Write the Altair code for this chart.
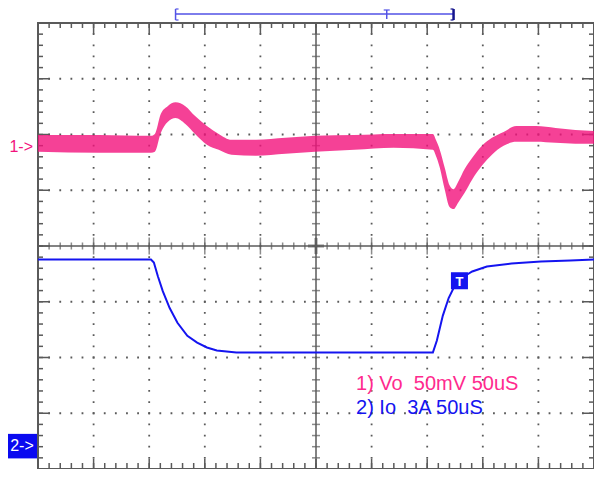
import altair as alt
import pandas as pd
import numpy as np

# ---------------- data ----------------
# Channel 1: Vo envelope (upper / lower edge of the noisy trace), mV relative to its "1->" ground marker
t_vo = [0, 54.8, 101.6, 105.1, 110.4, 116.6, 123.7, 132.5, 141.3, 151.9, 162.5, 174.0, 196.1,
        222.6, 249.1, 284.5, 319.8, 355.1, 357.8, 361.3, 365.7, 370.1, 373.7, 378.1, 383.4,
        390.5, 399.3, 408.2, 418.7, 430.2, 447.9, 465.5, 483.2, 500]
vo_hi = [10.6, 10.6, 9.8, 11.5, 29.3, 36.4, 39.9, 36.4, 27.5, 18.6, 11.5, 6.2, 6.2,
         8.0, 9.8, 10.6, 11.5, 11.5, 6.2, -2.7, -18.6, -34.6, -38.1, -31.0, -20.4,
         -9.8, 0.9, 8.0, 13.3, 18.6, 18.6, 16.9, 15.1, 14.2]
vo_lo = [-4.4, -5.3, -5.3, -4.4, 12.4, 22.2, 25.7, 20.4, 11.5, 1.8, -2.7, -7.1, -8.0,
         -6.2, -4.4, -2.7, -0.9, -2.7, -8.0, -18.6, -38.1, -54.1, -55.9, -49.7, -41.7,
         -29.3, -16.9, -7.1, 0.9, 4.4, 4.4, 3.5, 2.7, 2.7]

# Channel 2: Io (A) relative to its "2->" ground marker
t_io = [0, 101.6, 104.2, 107.8, 112.2, 118.4, 125.4, 134.3, 143.1, 151.9, 160.8, 178.4, 231.4,
        300, 355.1, 358.7, 364.0, 369.3, 374.6, 381.6, 390.5, 403.7, 425.8, 452.3, 478.8, 500]
io = [10.04, 10.04, 9.88, 9.14, 8.34, 7.43, 6.64, 5.94, 5.57, 5.31, 5.15, 5.04, 5.04,
      5.04, 5.04, 5.68, 7.01, 7.97, 8.61, 9.08, 9.40, 9.67, 9.83, 9.94, 9.99, 10.04]

# scope settings
TIME_DIV = 50           # us / div
N_XDIV, N_YDIV = 10, 8
CH1_POS, CH1_MV_DIV = 1.78, 50      # ground marker position (div), mV/div
CH2_POS, CH2_A_DIV = -3.59, 3       # ground marker position (div), A/div
TRIG_T, TRIG_A = 379, 8.9           # trigger point
BAR_START, BAR_TRIG, BAR_END = 123.7, 313.6, 373.7   # memory bar (us)
legend_lines = ["1) Vo\u00a0 50mV 50uS", "2) Io\u00a0 3A 50uS"]
LEGEND_T = 286                       # legend anchor (us)
LEGEND_Y = [-2.47, -2.90]            # legend rows (div)

# ---------------- styling ----------------
W, H = 556, 446
PINK = "#F2127C"
PINK_TXT = "#FF2A8E"
BLUE = "#1414F0"
BAR_BLUE = "#5252E6"
BAR_END_C = "#14148C"
GRID = "#5a5a5a"
FONT = "Liberation Sans"

XMAX = TIME_DIV * N_XDIV
xs = alt.Scale(domain=[0, XMAX], nice=False, zero=False)
ys = alt.Scale(domain=[-N_YDIV / 2, N_YDIV / 2], nice=False, zero=False)


def X(f):
    return alt.X(f, type="quantitative", scale=xs, axis=None)


def Y(f):
    return alt.Y(f, type="quantitative", scale=ys, axis=None)


def XD(v):
    return alt.XDatum(v, type="quantitative", scale=xs, axis=None)


def YD(v):
    return alt.YDatum(v, type="quantitative", scale=ys, axis=None)


one = pd.DataFrame({"a": [0]})

# grid positions
minor_x = pd.DataFrame({"v": np.linspace(0, XMAX, N_XDIV * 5 + 1)})
major_x = pd.DataFrame({"v": np.linspace(0, XMAX, N_XDIV + 1)})
minor_y = pd.DataFrame({"v": np.linspace(-N_YDIV / 2, N_YDIV / 2, N_YDIV * 5 + 1)})
major_y = pd.DataFrame({"v": np.linspace(-N_YDIV / 2, N_YDIV / 2, N_YDIV + 1)})
inner_x = major_x[(major_x.v > 0) & (major_x.v < XMAX) & (major_x.v != XMAX / 2)]
inner_y = major_y[(major_y.v.abs() < N_YDIV / 2) & (major_y.v != 0)]

gx = H / (N_YDIV * 5)
gy = W / (N_XDIV * 5)
dot = 1.8

layers = []
# dotted grid
layers.append(alt.Chart(inner_x).mark_rule(color=GRID, strokeWidth=dot, strokeDash=[dot, gx - dot],
                                           strokeDashOffset=dot / 2).encode(x=X("v")))
layers.append(alt.Chart(inner_y).mark_rule(color=GRID, strokeWidth=dot, strokeDash=[dot, gy - dot],
                                           strokeDashOffset=dot / 2).encode(y=Y("v")))
# centre axes
layers.append(alt.Chart(one).mark_rule(color=GRID, strokeWidth=1.5).encode(x=XD(XMAX / 2)))
layers.append(alt.Chart(one).mark_rule(color=GRID, strokeWidth=1.5).encode(y=YD(0)))
layers.append(alt.Chart(minor_x).mark_tick(color=GRID, orient="vertical", size=7, thickness=1.5)
              .encode(x=X("v"), y=YD(0)))
layers.append(alt.Chart(major_x).mark_tick(color=GRID, orient="vertical", size=17, thickness=1.5)
              .encode(x=X("v"), y=YD(0)))
layers.append(alt.Chart(minor_y).mark_tick(color=GRID, orient="horizontal", size=8, thickness=1.5)
              .encode(y=Y("v"), x=XD(XMAX / 2)))
layers.append(alt.Chart(one).mark_tick(color=GRID, orient="horizontal", size=16, thickness=3)
              .encode(y=YD(0), x=XD(XMAX / 2)))
layers.append(alt.Chart(one).mark_tick(color=GRID, orient="vertical", size=16, thickness=3)
              .encode(y=YD(0), x=XD(XMAX / 2)))
# border ticks
layers.append(alt.Chart(minor_x).mark_rule(color=GRID, strokeWidth=1.5)
              .encode(x=X("v"), y=alt.value(0), y2=alt.value(5)))
layers.append(alt.Chart(major_x).mark_rule(color=GRID, strokeWidth=1.5)
              .encode(x=X("v"), y=alt.value(0), y2=alt.value(11)))
layers.append(alt.Chart(minor_x).mark_rule(color=GRID, strokeWidth=1.5)
              .encode(x=X("v"), y=alt.value(H - 6), y2=alt.value(H)))
layers.append(alt.Chart(major_x).mark_rule(color=GRID, strokeWidth=1.5)
              .encode(x=X("v"), y=alt.value(H - 10), y2=alt.value(H)))
layers.append(alt.Chart(minor_y).mark_rule(color=GRID, strokeWidth=1.5)
              .encode(y=Y("v"), x=alt.value(0), x2=alt.value(5)))
layers.append(alt.Chart(major_y).mark_rule(color=GRID, strokeWidth=1.5)
              .encode(y=Y("v"), x=alt.value(0), x2=alt.value(12)))
layers.append(alt.Chart(minor_y).mark_rule(color=GRID, strokeWidth=1.5)
              .encode(y=Y("v"), x=alt.value(W - 5), x2=alt.value(W)))
layers.append(alt.Chart(major_y).mark_rule(color=GRID, strokeWidth=1.5)
              .encode(y=Y("v"), x=alt.value(W - 12), x2=alt.value(W)))

# traces
vo_df = pd.DataFrame({"t": t_vo, "hi": vo_hi, "lo": vo_lo})
vo_df["hi_d"] = CH1_POS + vo_df["hi"] / CH1_MV_DIV
vo_df["lo_d"] = CH1_POS + vo_df["lo"] / CH1_MV_DIV
io_df = pd.DataFrame({"t": t_io, "io": io})
io_df["d"] = CH2_POS + io_df["io"] / CH2_A_DIV

layers.append(alt.Chart(vo_df).mark_area(color=PINK, opacity=0.8, interpolate="monotone")
              .encode(x=X("t"), y=Y("hi_d"), y2="lo_d"))
layers.append(alt.Chart(io_df).mark_line(color=BLUE, strokeWidth=2)
              .encode(x=X("t"), y=Y("d")))

# trigger marker on trace
trig_d = CH2_POS + TRIG_A / CH2_A_DIV
layers.append(alt.Chart(one).mark_square(color=BLUE, size=290, opacity=1)
              .encode(x=XD(TRIG_T), y=YD(trig_d)))
layers.append(alt.Chart(one).mark_text(text="T", color="white", fontSize=13, fontWeight="bold",
                                       font=FONT, baseline="middle", dy=1)
              .encode(x=XD(TRIG_T), y=YD(trig_d)))

# memory bar above the screen (drawn with rules)
BAR_Y, BAR_TOP, BAR_BOT = -9, -14, -3
layers.append(alt.Chart(one).mark_rule(color=BAR_BLUE, strokeWidth=1.5)
              .encode(x=XD(BAR_START), x2=alt.X2Datum(BAR_END), y=alt.value(BAR_Y)))
# left bracket "["
layers.append(alt.Chart(one).mark_rule(color=BAR_BLUE, strokeWidth=1.5)
              .encode(x=XD(BAR_START), y=alt.value(BAR_TOP), y2=alt.value(BAR_BOT)))
for yy in (BAR_TOP, BAR_BOT):
    layers.append(alt.Chart(one).mark_rule(color=BAR_BLUE, strokeWidth=1.2, x2Offset=3)
                  .encode(x=XD(BAR_START), x2=alt.X2Datum(BAR_START), y=alt.value(yy)))
# right bracket "]"
layers.append(alt.Chart(one).mark_rule(color=BAR_END_C, strokeWidth=2.5)
              .encode(x=XD(BAR_END), y=alt.value(BAR_TOP), y2=alt.value(BAR_BOT)))
for yy in (BAR_TOP, BAR_BOT):
    layers.append(alt.Chart(one).mark_rule(color=BAR_END_C, strokeWidth=1.2, xOffset=-3)
                  .encode(x=XD(BAR_END), x2=alt.X2Datum(BAR_END), y=alt.value(yy)))
# trigger "T" on the bar
layers.append(alt.Chart(one).mark_rule(color=BAR_BLUE, strokeWidth=1.5)
              .encode(x=XD(BAR_TRIG), y=alt.value(BAR_TOP + 1), y2=alt.value(BAR_BOT - 1)))
layers.append(alt.Chart(one).mark_rule(color=BAR_BLUE, strokeWidth=1.2, xOffset=-3, x2Offset=3)
              .encode(x=XD(BAR_TRIG), x2=alt.X2Datum(BAR_TRIG), y=alt.value(BAR_TOP + 1)))

# channel ground markers
layers.append(alt.Chart(one).mark_text(text="1->", color=PINK, fontSize=16, font=FONT,
                                       align="right", baseline="middle")
              .encode(x=alt.value(-5), y=YD(CH1_POS)))
layers.append(alt.Chart(one).mark_rect(color="#0A0AF0")
              .encode(x=alt.value(-31), x2=alt.value(-1),
                      y=YD(CH2_POS + 0.22), y2=alt.Y2Datum(CH2_POS - 0.22)))
layers.append(alt.Chart(one).mark_text(text="2->", color="white", fontSize=16, font=FONT,
                                       align="center", baseline="middle")
              .encode(x=alt.value(-16), y=YD(CH2_POS)))

# channel legend text
layers.append(alt.Chart(one).mark_text(text=legend_lines[0], color=PINK_TXT, fontSize=20, font=FONT,
                                       align="left", baseline="middle")
              .encode(x=XD(LEGEND_T), y=YD(LEGEND_Y[0])))
layers.append(alt.Chart(one).mark_text(text=legend_lines[1], color=BLUE, fontSize=20, font=FONT,
                                       align="left", baseline="middle")
              .encode(x=XD(LEGEND_T), y=YD(LEGEND_Y[1])))

chart = alt.layer(*layers).properties(
    width=W, height=H,
    autosize=alt.AutoSizeParams(type="none"),
    padding={"left": 30, "top": 15, "right": 0, "bottom": 0},
    background="white",
).configure_view(stroke=GRID, strokeWidth=2)

chart.save("out.html", embed_options={"renderer": "svg", "actions": False})
